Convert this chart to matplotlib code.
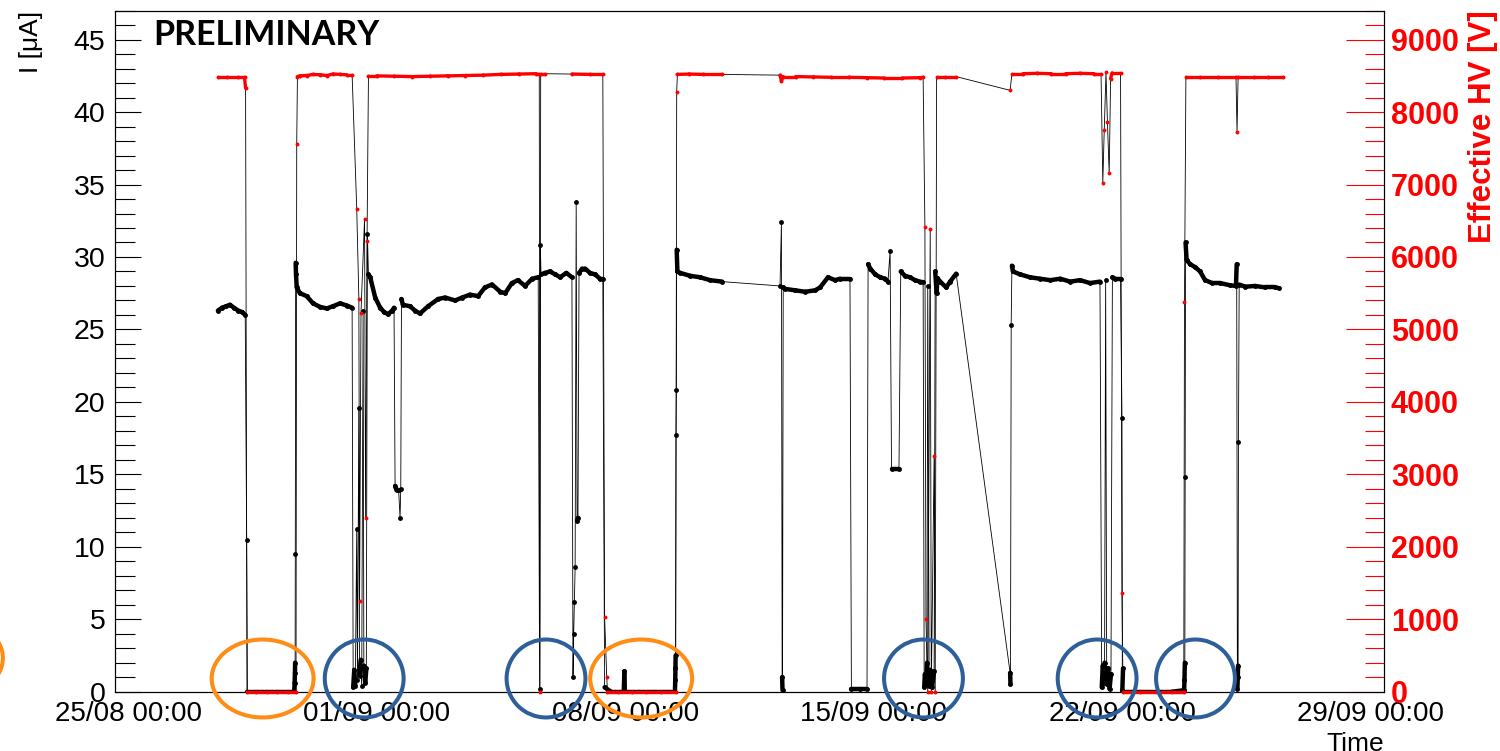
import numpy as np
import matplotlib
matplotlib.use('Agg')
import matplotlib.pyplot as plt
from matplotlib.collections import LineCollection
from matplotlib.patches import Ellipse
from matplotlib.ticker import MultipleLocator

plt.rcParams['font.family'] = ['Liberation Sans', 'DejaVu Sans']

# ---------------- data (time in days since 25/08 00:00) ----------------
tick_days = [0, 7, 14, 21, 28, 35]
tick_labels = ['25/08 00:00', '01/09 00:00', '08/09 00:00',
               '15/09 00:00', '22/09 00:00', '29/09 00:00']

cur_t = [2.53, 2.65, 2.76, 2.87, 2.98, 3.10, 3.21, 3.30, 3.34, 3.36,
         3.60, 3.90, 4.20, 4.50, 4.68, 4.69, 4.70, 4.705, 4.71, 4.72, 4.73, 4.75,
         4.84, 5.03, 5.21, 5.41, 5.60, 5.77, 5.97, 6.16, 6.31,
         6.34, 6.37, 6.40, 6.44, 6.46, 6.50, 6.52, 6.55, 6.58, 6.62, 6.64, 6.68, 6.71, 6.74, 6.77,
         6.82, 6.96, 7.10, 7.21, 7.32, 7.44, 7.49, 7.52, 7.56, 7.62, 7.66, 7.68, 7.70, 7.74,
         7.94, 8.08, 8.22, 8.45, 8.73, 8.93, 9.21, 9.41, 9.63, 9.86, 10.05, 10.25, 10.48,
         10.62, 10.81, 10.98, 11.18, 11.38, 11.55,
         11.59, 11.61, 11.63,
         11.74, 11.88, 12.03, 12.17, 12.34, 12.50, 12.53, 12.55, 12.57, 12.59, 12.62, 12.645, 12.67,
         12.70, 12.79, 12.87, 13.01, 13.15, 13.29, 13.37, 13.42,
         13.60, 13.96, 13.977, 13.99, 14.40, 14.80, 15.20, 15.40, 15.41, 15.415, 15.42,
         15.43, 15.44, 15.45, 15.47,
         15.55, 15.83, 16.11, 16.39, 16.73,
         18.36, 18.40, 18.42, 18.43, 18.45,
         18.50, 18.78, 19.07, 19.35, 19.49, 19.71, 19.91, 20.05, 20.33,
         20.37, 20.61, 20.81, 20.84, 20.90, 21.04, 21.18, 21.32, 21.40, 21.46, 21.50, 21.71,
         21.76, 21.88, 22.02, 22.16, 22.30, 22.39,
         22.42, 22.44, 22.47, 22.50, 22.52, 22.56, 22.59, 22.64, 22.70, 22.73, 22.77,
         22.79, 22.87, 23.04, 23.15, 23.32,
         24.84, 24.85, 24.87, 24.89,
         24.92, 25.12, 25.40, 25.68, 25.97, 26.25, 26.53, 26.81, 27.09, 27.37,
         27.42, 27.45, 27.48, 27.50, 27.53, 27.56, 27.60, 27.64, 27.68, 27.72,
         27.80, 27.95, 27.99, 28.00, 28.02, 28.03, 28.50, 28.98, 29.40,
         29.74, 29.75, 29.76, 29.77, 29.78, 29.81,
         29.91, 30.05, 30.19, 30.33, 30.53, 30.75, 31.03, 31.20,
         31.22, 31.24, 31.25, 31.26, 31.27, 31.29,
         31.46, 31.74, 32.02, 32.30, 32.41]

cur_I = [26.3, 26.5, 26.6, 26.7, 26.5, 26.3, 26.2, 26.0, 10.5, 0.0,
         0.0, 0.0, 0.0, 0.0, 0.0, 0.6, 1.3, 2.0, 9.5, 29.6, 28.8, 27.9,
         27.5, 27.3, 26.8, 26.55, 26.45, 26.6, 26.8, 26.65, 26.5,
         0.3, 1.5, 0.4, 11.2, 0.8, 19.6, 1.1, 2.2, 0.4, 26.3, 1.8, 0.6, 1.6, 31.6, 28.8,
         28.6, 27.2, 26.5, 26.2, 26.05, 26.3, 26.5, 14.2, 13.9, 13.9, 12.0, 14.0, 27.1, 26.7,
         26.6, 26.3, 26.1, 26.6, 27.1, 27.2, 27.0, 27.2, 27.4, 27.3, 27.9, 28.1, 27.6,
         27.5, 28.2, 28.4, 28.0, 28.5, 28.6,
         0.2, 30.8, 28.8,
         28.9, 29.0, 28.8, 28.6, 28.9, 28.6, 1.0, 4.0, 6.2, 8.6, 33.8, 11.8, 12.0,
         28.9, 29.2, 29.2, 28.9, 28.8, 28.5, 28.5, 0.3,
         0.0, 0.0, 1.4, 0.0, 0.0, 0.0, 0.0, 0.0, 0.8, 1.6, 2.5,
         17.7, 20.8, 30.5, 29.0,
         28.9, 28.7, 28.6, 28.4, 28.3,
         28.0, 32.4, 1.0, 0.1, 27.9,
         27.8, 27.7, 27.6, 27.7, 27.9, 28.6, 28.4, 28.5, 28.5,
         0.2, 0.2, 0.2, 29.5, 29.2, 28.8, 28.6, 28.5, 28.3, 30.4, 15.4, 15.4,
         29.0, 28.7, 28.6, 28.4, 28.3, 28.3,
         0.3, 1.2, 0.5, 2.0, 28.0, 0.4, 1.5, 0.3, 1.4, 29.0, 27.5,
         28.55, 28.3, 27.9, 28.3, 28.85,
         1.3, 0.5, 25.3, 29.4,
         29.0, 28.8, 28.6, 28.5, 28.4, 28.5, 28.3, 28.4, 28.2, 28.3,
         0.3, 1.8, 0.6, 2.0, 28.4, 0.5, 1.6, 0.2, 1.2, 28.6,
         28.5, 28.5, 18.9, 0.1, 1.6, 0.0, 0.0, 0.0, 0.0,
         0.1, 0.8, 2.0, 14.8, 31.0, 29.8,
         29.5, 29.3, 29.0, 28.4, 28.2, 28.2, 28.05, 28.0,
         29.5, 0.2, 1.0, 1.8, 17.2, 28.1,
         27.95, 28.0, 27.9, 27.9, 27.85]

hv_t = [2.53, 2.80, 3.10, 3.28, 3.31, 3.35, 3.60, 3.90, 4.20, 4.50, 4.73,
        4.75, 4.77, 4.84, 5.03, 5.21, 5.41, 5.60, 5.77, 5.97, 6.16, 6.31,
        6.44, 6.50, 6.52, 6.56, 6.66, 6.69, 6.73, 6.77,
        7.0, 7.5, 8.0, 8.5, 9.0, 9.5, 10.0, 10.5, 11.0, 11.5, 11.58, 11.60, 11.62,
        11.74, 12.5, 13.0, 13.37, 13.42, 13.48, 13.50, 13.8, 14.2, 14.6, 15.0, 15.42,
        15.45, 15.47, 15.8, 16.2, 16.73,
        18.36, 18.40, 18.45, 18.8, 19.3, 19.8, 20.3, 20.8, 21.3, 21.8, 22.3, 22.39,
        22.44, 22.47, 22.52, 22.59, 22.62, 22.70, 22.73, 22.77, 23.0, 23.32,
        24.84, 24.89, 25.2, 25.6, 26.0, 26.4, 26.8, 27.2, 27.40,
        27.45, 27.49, 27.54, 27.58, 27.63, 27.67, 27.71, 27.95,
        27.99, 28.02, 28.5, 28.97, 29.40, 29.73, 29.75, 29.79,
        30.2, 30.7, 31.2, 31.23, 31.26, 31.7, 32.1, 32.52]

hv_V = [8480, 8480, 8480, 8480, 8330, 0, 0, 0, 0, 0, 0,
        7560, 8490, 8500, 8505, 8520, 8515, 8505, 8525, 8520, 8515, 8515,
        6666, 5425, 1250, 5232, 6528, 2395, 6220, 8500,
        8500, 8495, 8490, 8495, 8500, 8505, 8510, 8520, 8525, 8530, 8530, 0, 8530,
        8530, 8525, 8520, 8520, 1030, 207, 0, 0, 0, 0, 0, 0,
        8280, 8520, 8525, 8520, 8520,
        8510, 8430, 8490, 8490, 8485, 8480, 8480, 8475, 8470, 8470, 8475, 8480,
        6420, 1000, 0, 6380, 0, 3250, 0, 8490, 8490, 8490,
        8300, 8530, 8530, 8535, 8530, 8530, 8535, 8530, 8530,
        7025, 7746, 8550, 7860, 7153, 8463, 8540, 8540,
        1360, 0, 0, 0, 0, 0, 5378, 8490,
        8490, 8490, 8490, 7720, 8490, 8490, 8490, 8490]

# annotation ellipses: (centre day, centre µA, width days, height µA, colour)
ell_x = [-4.96, 3.79, 6.65, 11.77, 14.45, 22.40, 27.29, 30.06]
ell_y = [2.32, 0.91, 0.91, 0.91, 0.91, 0.91, 0.91, 0.91]
ell_w = [2.87, 2.87, 2.22, 2.22, 2.87, 2.22, 2.22, 2.22]
ell_h = [5.38, 5.38, 5.38, 5.38, 5.38, 5.38, 5.38, 5.38]
ell_c = ['orange', 'orange', 'blue', 'blue', 'orange', 'blue', 'blue', 'blue']
ell_colors = {'orange': '#ff8c14', 'blue': '#2e5f99'}


def band_segments(t, v, max_dt, max_dv):
    t = np.asarray(t, float)
    v = np.asarray(v, float)
    segs = []
    for i in range(len(t) - 1):
        if t[i + 1] - t[i] <= max_dt and abs(v[i + 1] - v[i]) <= max_dv:
            segs.append([(t[i], v[i]), (t[i + 1], v[i + 1])])
    return segs


fig = plt.figure(figsize=(15, 7.51), dpi=100)
ax = fig.add_axes([0.0767, 0.079, 0.846, 0.9068])
ax2 = ax.twinx()

# current (black)
ax.plot(cur_t, cur_I, color='black', lw=0.6, zorder=2)
ax.add_collection(LineCollection(band_segments(cur_t, cur_I, 0.5, 1.5),
                                 colors='black', linewidths=3.2,
                                 capstyle='round', zorder=3))
ax.plot(cur_t, cur_I, 'o', color='black', ms=3.5, mew=0, zorder=4)

# effective HV (red markers, black connecting line)
ax2.plot(hv_t, hv_V, color='black', lw=0.6, zorder=2)
ax2.add_collection(LineCollection(band_segments(hv_t, hv_V, 0.6, 150),
                                  colors='red', linewidths=2.4,
                                  capstyle='round', zorder=3, clip_on=False))
ax2.plot(hv_t, hv_V, 'o', color='red', ms=2.8, mew=0, zorder=4, clip_on=False)

for cx, cy, w, h, c in zip(ell_x, ell_y, ell_w, ell_h, ell_c):
    ax2.add_patch(Ellipse((cx, cy), w, h, fill=False, ec=ell_colors[c],
                          lw=2.9, clip_on=False, zorder=10,
                          transform=ax.transData))

# axes limits
ax.set_xlim(-0.366, 35.37)
ax.set_ylim(0, 47)
ax2.set_ylim(0, 9400)

# x axis
ax.set_xticks(tick_days)
ax.set_xticklabels(tick_labels)
ax.set_xticks([0, 35], minor=True)
ax.tick_params(axis='x', which='major', length=0, direction='in',
               pad=7, labelsize=20)
ax.tick_params(axis='x', which='minor', length=14.4, direction='in', width=0.8)
ax.tick_params(axis='x', top=False, which='both')

# left y axis
ax.set_yticks(range(0, 46, 5))
ax.yaxis.set_minor_locator(MultipleLocator(1))
ax.tick_params(axis='y', which='major', length=18.7, direction='in',
               labelsize=20.5, pad=7, width=0.8)
ax.tick_params(axis='y', which='minor', length=14.4, direction='in', width=0.8)
ax.tick_params(axis='y', which='both', right=False)

# right y axis
ax2.set_yticks(range(0, 9001, 1000))
ax2.yaxis.set_minor_locator(MultipleLocator(200))
ax2.tick_params(axis='y', which='major', length=27.4, direction='in',
                colors='red', labelsize=22, pad=5, width=0.8)
ax2.tick_params(axis='y', which='minor', length=13.7, direction='in',
                colors='red', width=0.8)
for lbl in ax2.get_yticklabels():
    lbl.set_fontweight('bold')
ax2.tick_params(axis='y', which='both', left=False)

for a in (ax, ax2):
    for s in a.spines.values():
        s.set_linewidth(0.8)
        s.set_color('black')

ax.set_ylabel('I [μA]', loc='top', fontsize=19)
ax.yaxis.set_label_coords(-0.057, 1.0)
ax2.set_ylabel('Effective HV [V]', loc='top', fontsize=22.5, color='red',
               fontweight='bold')
ax2.yaxis.set_label_coords(1.066, 1.0)
ax.set_xlabel('Time', loc='right', fontsize=19)
ax.xaxis.set_label_coords(1.0, -0.059)

ax.text(0.030, 0.9497, 'PRELIMINARY', transform=ax.transAxes, fontsize=24.5,
        fontweight='bold', family=['Lato', 'DejaVu Sans'],
        va='baseline', ha='left')

fig.savefig('out.png', dpi=100)
